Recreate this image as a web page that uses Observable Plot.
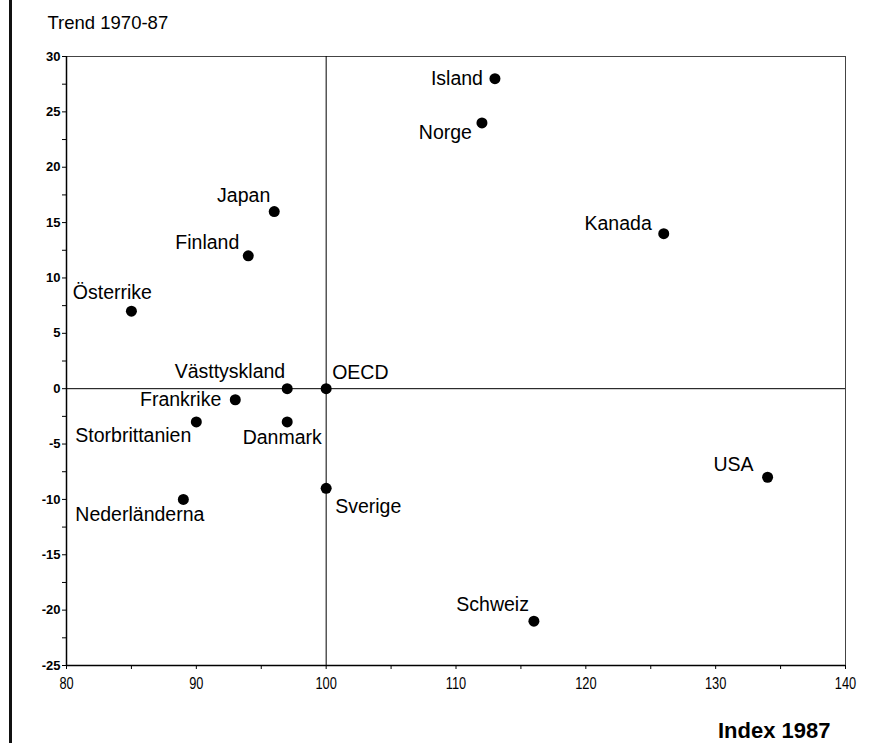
<!DOCTYPE html>
<html>
<head>
<meta charset="utf-8">
<script src="https://cdn.jsdelivr.net/npm/d3@7"></script>
<script src="https://cdn.jsdelivr.net/npm/@observablehq/plot@0.6"></script>
<style>
  html, body { margin: 0; padding: 0; background: white; }
  #wrap { position: relative; width: 875px; height: 743px; overflow: hidden; }
  #pageEdge { position: absolute; left: 9px; top: 0; width: 2.5px; height: 743px; background: #111; }
  #chart { position: absolute; left: 0; top: 0; }
</style>
</head>
<body>
<div id="wrap"><div id="chart"></div><div id="pageEdge"></div></div>
<script>
// ---- data ----
const countries = ["Island", "Norge", "Kanada", "Japan", "Finland", "Österrike", "Västtyskland", "OECD",
                   "Frankrike", "Storbrittanien", "Danmark", "Sverige", "Nederländerna", "USA", "Schweiz"];
const index1987 = [113, 112, 126, 96, 94, 85, 97, 100, 93, 90, 97, 100, 89, 134, 116];
const trend7087 = [28, 24, 14, 16, 12, 7, 0, 0, -1, -3, -3, -9, -10, -8, -21];

const xTickValues = [80, 85, 90, 95, 100, 105, 110, 115, 120, 125, 130, 135, 140];
const xTickLabels = [80, 90, 100, 110, 120, 130, 140];
const yTickValues = [-25, -22.5, -20, -17.5, -15, -12.5, -10, -7.5, -5, -2.5, 0, 2.5, 5, 7.5, 10, 12.5, 15, 17.5, 20, 22.5, 25, 27.5, 30];
const yTickLabels = [-25, -20, -15, -10, -5, 0, 5, 10, 15, 20, 25, 30];

const titleText = "Trend 1970-87";
const xTitleText = "Index 1987";

// ---- label placement (layout only) ----
const labelLayout = {
  "Island":         {anchor: "end",    dx: -12,  dy: 0},
  "Norge":          {anchor: "end",    dx: -10,  dy: 10},
  "Kanada":         {anchor: "end",    dx: -12,  dy: -10},
  "Japan":          {anchor: "end",    dx: -4,   dy: -16},
  "Finland":        {anchor: "end",    dx: -9,   dy: -13},
  "Österrike":      {anchor: "middle", dx: -19,  dy: -18},
  "Västtyskland":   {anchor: "end",    dx: -2,   dy: -17},
  "OECD":           {anchor: "start",  dx: 6,    dy: -16},
  "Frankrike":      {anchor: "end",    dx: -14,  dy: 0},
  "Storbrittanien": {anchor: "start",  dx: -121, dy: 14},
  "Danmark":        {anchor: "middle", dx: -5,   dy: 16},
  "Sverige":        {anchor: "start",  dx: 9,    dy: 18},
  "Nederländerna":  {anchor: "start",  dx: -108, dy: 15},
  "USA":            {anchor: "end",    dx: -14,  dy: -13},
  "Schweiz":        {anchor: "end",    dx: -5,   dy: -16}
};

const data = countries.map((c, i) => ({country: c, x: index1987[i], y: trend7087[i]}));

const labelFont = "'Liberation Sans', Arial, Helvetica, sans-serif";

const labelMarks = data.map(d => {
  const L = labelLayout[d.country];
  return Plot.text([d], {
    x: "x", y: "y", text: "country",
    textAnchor: L.anchor, dx: L.dx, dy: L.dy,
    fontSize: 19.5, fill: "black"
  });
});

const chart = Plot.plot({
  width: 875,
  height: 743,
  marginLeft: 66,
  marginRight: 30,
  marginTop: 56,
  marginBottom: 78,
  style: {fontFamily: labelFont, fontSize: "19.5px", background: "white", color: "black", overflow: "visible"},
  x: {domain: [80, 140], label: null},
  y: {domain: [-25, 30], label: null},
  marks: [
    Plot.frame({stroke: "#444", strokeWidth: 1}),
    Plot.ruleX([80], {stroke: "black", strokeWidth: 1.5}),
    Plot.ruleY([-25], {stroke: "black", strokeWidth: 1.5}),
    Plot.ruleX([100], {stroke: "black", strokeWidth: 1}),
    Plot.ruleY([0], {stroke: "black", strokeWidth: 1}),
    Plot.axisX({
      ticks: xTickValues,
      tickFormat: d => xTickLabels.includes(d) ? String(d) : "",
      tickSize: 4, tickPadding: 8, label: null,
      fontFamily: labelFont, fontSize: 16, stroke: "black"
    }),
    Plot.axisY({
      ticks: yTickValues,
      tickFormat: d => yTickLabels.includes(d) ? String(d) : "",
      tickSize: 4, tickPadding: 2, label: null,
      fontFamily: labelFont, fontSize: 13, fontWeight: "bold", stroke: "black"
    }),
    Plot.dot(data, {x: "x", y: "y", r: 5.5, fill: "black", stroke: null}),
    ...labelMarks,
    Plot.text([titleText], {
      frameAnchor: "top-left", textAnchor: "start", lineAnchor: "top",
      dx: -19, dy: -41, fontSize: 18.5, fill: "black"
    }),
    Plot.text([xTitleText], {
      frameAnchor: "bottom-right", textAnchor: "end", lineAnchor: "top",
      dx: -15, dy: 57, fontSize: 22, fontWeight: "bold", fill: "black",
      ariaLabel: "xtitle"
    })
  ]
});

document.getElementById("chart").appendChild(chart);

// condense the x tick labels and the x title (the original uses a narrow typeface)
function condense(selector, factor) {
  d3.select(chart).selectAll(selector).each(function () {
    const len = this.getComputedTextLength();
    if (len > 0) {
      this.setAttribute("textLength", (len * factor).toFixed(1));
      this.setAttribute("lengthAdjust", "spacingAndGlyphs");
    }
  });
}
condense("g[aria-label='x-axis tick label'] text", 0.8);
condense("g[aria-label='xtitle'] text", 0.8);
</script>
</body>
</html>
